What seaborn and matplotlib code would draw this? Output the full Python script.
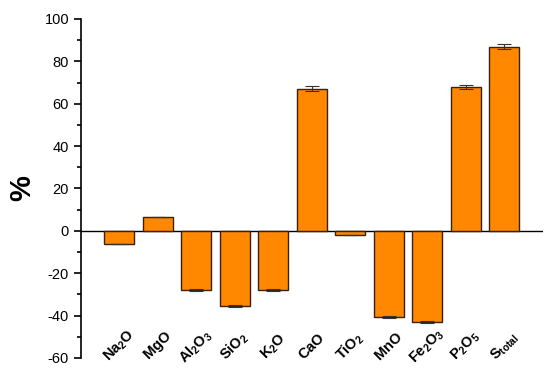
import matplotlib
matplotlib.use("Agg")
import matplotlib.pyplot as plt
import seaborn as sns
import pandas as pd
from matplotlib.ticker import MultipleLocator

oxides = ["Na2O", "MgO", "Al2O3", "SiO2", "K2O", "CaO", "TiO2", "MnO", "Fe2O3", "P2O5", "Stotal"]
labels = [r"$\mathbf{Na_2O}$", r"$\mathbf{MgO}$", r"$\mathbf{Al_2O_3}$", r"$\mathbf{SiO_2}$",
          r"$\mathbf{K_2O}$", r"$\mathbf{CaO}$", r"$\mathbf{TiO_2}$", r"$\mathbf{MnO}$",
          r"$\mathbf{Fe_2O_3}$", r"$\mathbf{P_2O_5}$", r"$\mathbf{S_{total}}$"]
values = [-6.0, 6.5, -28.0, -35.5, -28.0, 67.0, -2.0, -40.5, -43.0, 68.0, 87.0]
errors = [0.0, 0.0, 0.4, 0.5, 0.4, 1.2, 0.0, 0.5, 0.4, 1.0, 1.3]
yticks = [-60, -40, -20, 0, 20, 40, 60, 80, 100]

sns.set_style("ticks")
plt.rcParams['font.family'] = ['Liberation Sans', 'DejaVu Sans']
plt.rcParams['axes.unicode_minus'] = False
plt.rcParams['mathtext.fontset'] = 'custom'
plt.rcParams['mathtext.rm'] = 'Liberation Sans:bold'
plt.rcParams['mathtext.bf'] = 'Liberation Sans:bold'
plt.rcParams['mathtext.it'] = 'Liberation Sans:bold'

df = pd.DataFrame({"oxide": oxides, "value": values, "err": errors})

fig = plt.figure(figsize=(5.5, 3.8), dpi=100)
ax = fig.add_axes([0.147, 0.058, 0.84, 0.892])

sns.barplot(data=df, x="oxide", y="value", color="#FF8800", saturation=1,
            width=0.78, edgecolor="#3a2010", linewidth=1.0, errorbar=None, ax=ax)
ax.errorbar(range(len(oxides)), values, yerr=errors, fmt="none", ecolor="#333333",
            elinewidth=0.8, capsize=5, capthick=0.8)

ax.axhline(0, color="black", lw=1.0, zorder=0.5)
ax.set_xlim(-1, 11)
ax.set_ylim(-60, 100)
ax.set_yticks(yticks)
ax.yaxis.set_minor_locator(MultipleLocator(10))
ax.tick_params(axis="y", which="major", length=5, width=1.2, labelsize=10.5,
               direction="out", colors="black", labelcolor="black")
ax.tick_params(axis="y", which="minor", length=3, width=1.2, direction="out", colors="black")
ax.set_xticks([])
ax.set_xlabel("")
ax.set_ylabel("%", fontsize=21, fontweight="bold", labelpad=6, color="black")
for s in ["top", "right", "bottom"]:
    ax.spines[s].set_visible(False)
ax.spines["left"].set_linewidth(1.2)
ax.spines["left"].set_color("black")

for i, lab in enumerate(labels):
    ax.text(i, -54.5, lab, rotation=45, ha="center", va="center",
            rotation_mode="anchor", fontsize=10.5, color="black")

fig.savefig("out.png", dpi=100)
